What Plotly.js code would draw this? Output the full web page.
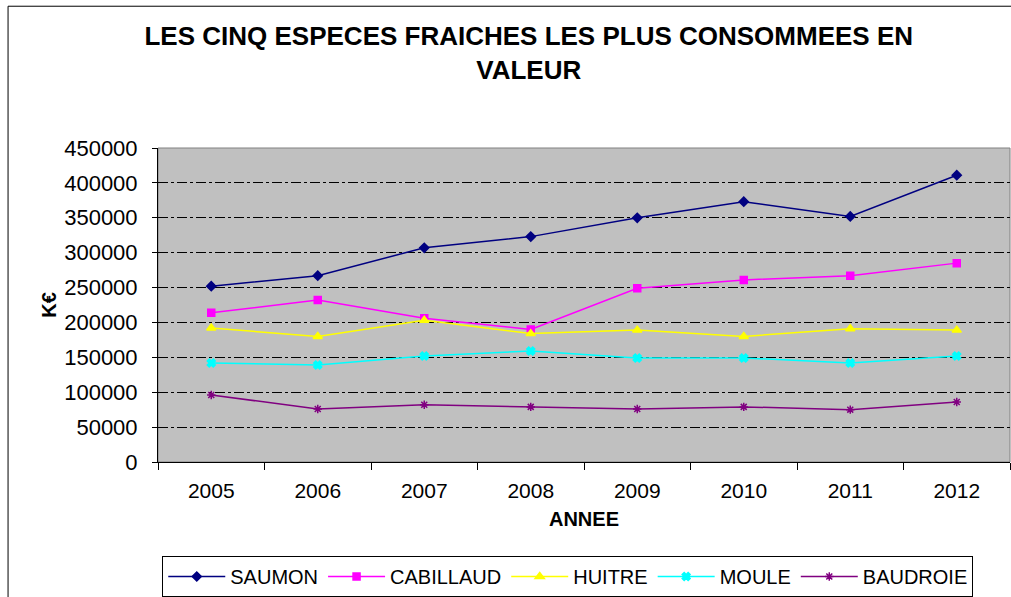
<!DOCTYPE html>
<html><head><meta charset="utf-8">
<script src="https://cdn.plot.ly/plotly-3.0.1.min.js"></script>
<style>html,body{margin:0;padding:0;background:#fff;}#chart{width:1011px;height:597px;}</style>
</head><body><div id="chart"></div>
<script>
const years = ['2005','2006','2007','2008','2009','2010','2011','2012'];
const saumon = [252000, 267000, 307000, 323000, 350000, 373000, 352000, 411000];
const cabillaud = [214000, 232000, 206000, 190000, 249000, 261000, 267000, 285000];
const huitre = [192000, 180000, 203000, 184000, 189000, 180000, 191000, 189000];
const moule = [142000, 139000, 152000, 159000, 149000, 149000, 142000, 152000];
const baudroie = [96000, 76000, 82000, 79000, 76000, 79000, 75000, 86000];
const yTicks = [0, 50000, 100000, 150000, 200000, 250000, 300000, 350000, 400000, 450000];

const F = 'Liberation Sans, Arial, sans-serif';
function tr(name, y, color, symbol, size) {
  return {x: years, y: y, name: name, type: 'scatter', mode: 'lines+markers',
    line: {color: color, width: 1.5},
    marker: {color: color, symbol: symbol, size: size, line: {color: color, width: 1.5}}};
}
const data = [
  tr('SAUMON', saumon, '#000080', 'diamond', 7),
  tr('CABILLAUD', cabillaud, '#FF00FF', 'square', 7),
  tr('HUITRE', huitre, '#FFFF00', 'triangle-up', 8),
  tr('MOULE', moule, '#00FFFF', 'x', 7),
  tr('BAUDROIE', baudroie, '#800080', 'asterisk-open', 7)
];
const layout = {
  width: 1011, height: 597,
  margin: {l: 158, r: 1, t: 148, b: 134},
  paper_bgcolor: '#ffffff', plot_bgcolor: '#C0C0C0',
  font: {family: F, size: 21, color: '#000'},
  title: {text: '<b>LES CINQ ESPECES FRAICHES LES PLUS CONSOMMEES EN<br>VALEUR</b>',
    font: {family: F, size: 26, color: '#000'}, x: 0.523, xanchor: 'center', xref: 'container',
    y: 0.925, yanchor: 'top', yref: 'container'},
  xaxis: {type: 'category', range: [-0.5, 7.5], showline: true, linecolor: '#000', linewidth: 1,
    ticks: 'outside', ticklen: 7, tickcolor: '#000', tickson: 'boundaries', showgrid: false,
    tickfont: {family: F, size: 21}, zeroline: false, ticklabelstandoff: 10,
    title: {text: '<b>ANNEE</b>', font: {family: F, size: 20}, standoff: 10}},
  yaxis: {range: [0, 450000], tickvals: yTicks, ticktext: yTicks.map(String),
    showline: true, linecolor: '#000', linewidth: 1, ticks: 'outside', ticklen: 5, tickcolor: '#000',
    showgrid: true, gridcolor: '#000', gridwidth: 1, griddash: '10px,3px,3px,3px',
    zeroline: false, tickfont: {family: F, size: 22}, ticklabelstandoff: 10,
    title: {text: '<b>K€</b>', font: {family: F, size: 20}, standoff: 2}},
  legend: {orientation: 'h', x: 0.005, xanchor: 'left', y: -0.298, yanchor: 'top',
    bordercolor: '#000', borderwidth: 1, bgcolor: '#fff', font: {family: F, size: 20},
    itemwidth: 57, tracegroupgap: 0},
  shapes: [
    {type: 'rect', xref: 'paper', yref: 'paper', x0: 0, x1: 1, y0: 0, y1: 1,
     line: {color: '#808080', width: 1}, fillcolor: 'rgba(0,0,0,0)', layer: 'below'},
    {type: 'line', xref: 'paper', yref: 'paper', x0: -0.176, x1: 1.01, y0: 1.4515, y1: 1.4515,
     line: {color: '#000', width: 1}},
    {type: 'line', xref: 'paper', yref: 'paper', x0: -0.176, x1: -0.176, y0: -0.5, y1: 1.4515,
     line: {color: '#000', width: 1}}
  ],
  showlegend: true
};
Plotly.newPlot('chart', data, layout, {displayModeBar: false, staticPlot: true});
</script></body></html>
